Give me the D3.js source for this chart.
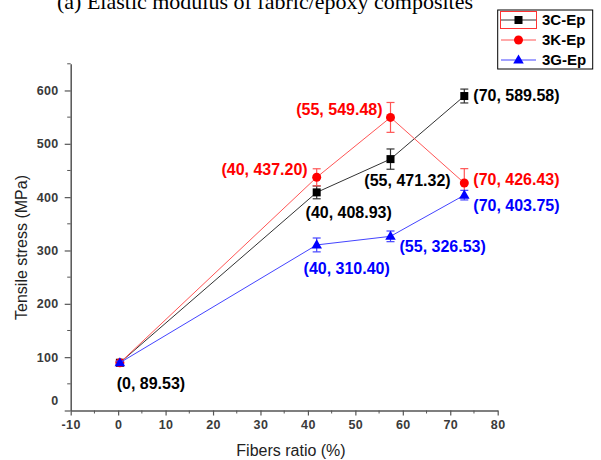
<!DOCTYPE html>
<html>
<head>
<meta charset="utf-8">
<script src="https://cdn.jsdelivr.net/npm/d3@7"></script>
<style>
  body { margin: 0; background: #fff; }
  svg { display: block; font-family: Arial, "Liberation Sans", sans-serif; }
  .axis path, .axis line { stroke: #555; }
  .axis text { fill: #3a3a3a; font-weight: bold; font-size: 12.5px; letter-spacing: 0.4px; }
</style>
</head>
<body>
<svg id="chart" width="601" height="460"></svg>
<script>
// fibre ratio (%)
var ratios = [0, 40, 55, 70];

var series = ['3C-Ep', '3K-Ep', '3G-Ep'];
var c3 = [89.53, 408.93, 471.32, 589.58];
var k3 = [89.53, 437.20, 549.48, 426.43];
var g3 = [89.53, 310.40, 326.53, 403.75];

// error bars (+/- MPa)
var c3err = [3, 12, 19, 13];
var k3err = [3, 16, 28, 27];
var g3err = [3, 13, 10, 9];

var xTicks = [-10, 0, 10, 20, 30, 40, 50, 60, 70, 80];
var yTicks = [0, 100, 200, 300, 400, 500, 600];

// label offsets from each point [dx, dy, anchor]
var labelPos = {
  '3C-Ep': [[31, 21, 'middle'], [32, 20, 'middle'], [17, 21, 'middle'], [9, -1, 'start']],
  '3K-Ep': [null, [-9, -8, 'end'], [-8, -8, 'end'], [9, -4, 'start']],
  '3G-Ep': [null, [30, 23, 'middle'], [9, 10, 'start'], [9, 10, 'start']]
};

var colors = { '3C-Ep': '#000', '3K-Ep': '#ff0000', '3G-Ep': '#0000ff' };
var lineColors = { '3C-Ep': '#333', '3K-Ep': '#ff5555', '3G-Ep': '#4444ff' };

var data = [
  { name: '3C-Ep', vals: c3, err: c3err },
  { name: '3K-Ep', vals: k3, err: k3err },
  { name: '3G-Ep', vals: g3, err: g3err }
];

var svg = d3.select('#chart');

var x = d3.scaleLinear().domain([-10, 80]).range([70.7, 497.7]);
// in the original the plotted points sit on a slightly wider x range than the axis
var xd = d3.scaleLinear().domain([-10, 80]).range([70.7, 513.5]);
var y = d3.scaleLinear().domain([0, 650]).range([410.5, 63.8]);

// title, cut off at the top (like the source picture)
svg.append('text')
  .attr('x', 265)
  .attr('y', 8.5)
  .attr('text-anchor', 'middle')
  .style('font-family', '"Liberation Serif", "Times New Roman", serif')
  .style('font-size', '22px')
  .attr('fill', '#000')
  .text('(a) Elastic modulus of fabric/epoxy composites');

// x axis
var gx = svg.append('g')
  .attr('class', 'axis')
  .attr('transform', 'translate(0,' + y(0) + ')')
  .call(d3.axisBottom(x).tickValues(xTicks).tickSize(5).tickSizeOuter(0).tickPadding(5)
    .tickFormat(function(d) { return String(d); }));
gx.select('path').attr('stroke-width', 1.5);
gx.selectAll('.tick line').attr('stroke-width', 1.2);

gx.selectAll('.minor')
  .data(d3.range(-5, 80, 10))
  .enter().append('line')
  .attr('class', 'minor')
  .attr('x1', function(d) { return x(d); })
  .attr('x2', function(d) { return x(d); })
  .attr('y1', 0).attr('y2', 3)
  .attr('stroke', '#555');

// y axis
var gy = svg.append('g')
  .attr('class', 'axis')
  .attr('transform', 'translate(' + x(-10) + ',0)')
  .call(d3.axisLeft(y).tickValues(yTicks).tickSize(6).tickSizeOuter(0).tickPadding(6)
    .tickFormat(function(d) { return String(d); }));
gy.select('path').attr('stroke-width', 1.5);
gy.selectAll('.tick line').attr('stroke-width', 1.2);
gy.selectAll('.tick text').filter(function(d) { return d == 0; }).attr('dy', '-0.5em');

gy.selectAll('.minor')
  .data(d3.range(50, 700, 100))
  .enter().append('line')
  .attr('class', 'minor')
  .attr('y1', function(d) { return y(d); })
  .attr('y2', function(d) { return y(d); })
  .attr('x1', 0).attr('x2', -3.5)
  .attr('stroke', '#555');

// axis titles
svg.append('text')
  .attr('x', 291)
  .attr('y', 456)
  .attr('text-anchor', 'middle')
  .style('font-size', '16px')
  .attr('fill', '#222')
  .text('Fibers ratio (%)');

svg.append('text')
  .attr('transform', 'translate(27,247.5) rotate(-90)')
  .attr('text-anchor', 'middle')
  .style('font-size', '16px')
  .attr('fill', '#222')
  .text('Tensile stress (MPa)');

var line = d3.line()
  .x(function(d, i) { return xd(ratios[i]); })
  .y(function(d) { return y(d); });

function drawMarker(g, name, cx, cy) {
  if (name == '3C-Ep') {
    g.append('rect')
      .attr('x', cx - 4).attr('y', cy - 4)
      .attr('width', 8).attr('height', 8)
      .attr('fill', colors[name]);
  } else if (name == '3K-Ep') {
    g.append('circle')
      .attr('cx', cx).attr('cy', cy).attr('r', 4.5)
      .attr('fill', colors[name]);
  } else {
    g.append('path')
      .attr('d', d3.symbol().type(d3.symbolTriangle).size(48))
      .attr('transform', 'translate(' + cx + ',' + (cy + 0.5) + ')')
      .attr('fill', colors[name]);
  }
}

// draw series back to front (blue last so it's on top like the original)
data.forEach(function(s) {
  var g = svg.append('g');

  g.append('path')
    .datum(s.vals)
    .attr('fill', 'none')
    .attr('stroke', lineColors[s.name])
    .attr('stroke-width', 1)
    .attr('d', line);

  s.vals.forEach(function(v, i) {
    var cx = xd(ratios[i]);
    var top = y(v + s.err[i]), bot = y(v - s.err[i]);
    g.append('line')
      .attr('x1', cx).attr('x2', cx).attr('y1', top).attr('y2', bot)
      .attr('stroke', lineColors[s.name]).attr('stroke-width', 1.2);
    g.append('line')
      .attr('x1', cx - 4).attr('x2', cx + 4).attr('y1', top).attr('y2', top)
      .attr('stroke', lineColors[s.name]).attr('stroke-width', 1.2);
    g.append('line')
      .attr('x1', cx - 4).attr('x2', cx + 4).attr('y1', bot).attr('y2', bot)
      .attr('stroke', lineColors[s.name]).attr('stroke-width', 1.2);
    drawMarker(g, s.name, cx, y(v));
  });
});

// value labels
data.forEach(function(s) {
  s.vals.forEach(function(v, i) {
    var p = labelPos[s.name][i];
    if (!p) return;
    svg.append('text')
      .attr('x', xd(ratios[i]) + p[0])
      .attr('y', y(v) + p[1])
      .attr('dy', '0.35em')
      .attr('text-anchor', p[2])
      .style('font-size', '16px')
      .style('font-weight', 'bold')
      .attr('fill', colors[s.name])
      .text('(' + ratios[i] + ', ' + v.toFixed(2) + ')');
  });
});

// legend
var leg = svg.append('g');
leg.append('rect')
  .attr('x', 497.7).attr('y', 10)
  .attr('width', 95).attr('height', 59)
  .attr('fill', '#fff').attr('stroke', '#000').attr('stroke-width', 1);

series.forEach(function(name, i) {
  var ly = 20 + i * 20;
  leg.append('line')
    .attr('x1', 501).attr('x2', 536).attr('y1', ly).attr('y2', ly)
    .attr('stroke', lineColors[name]).attr('stroke-width', 1.2);
  drawMarker(leg, name, 518.5, ly);
  leg.append('text')
    .attr('x', 542).attr('y', ly)
    .attr('dy', '0.35em')
    .style('font-size', '15px')
    .style('font-weight', 'bold')
    .attr('fill', '#000')
    .text(name);
});

// selection box around the first legend sample, as in the original
leg.append('rect')
  .attr('x', 500.5).attr('y', 11.5)
  .attr('width', 36).attr('height', 17)
  .attr('fill', 'none').attr('stroke', '#ff3333').attr('stroke-width', 1);
</script>
</body>
</html>
